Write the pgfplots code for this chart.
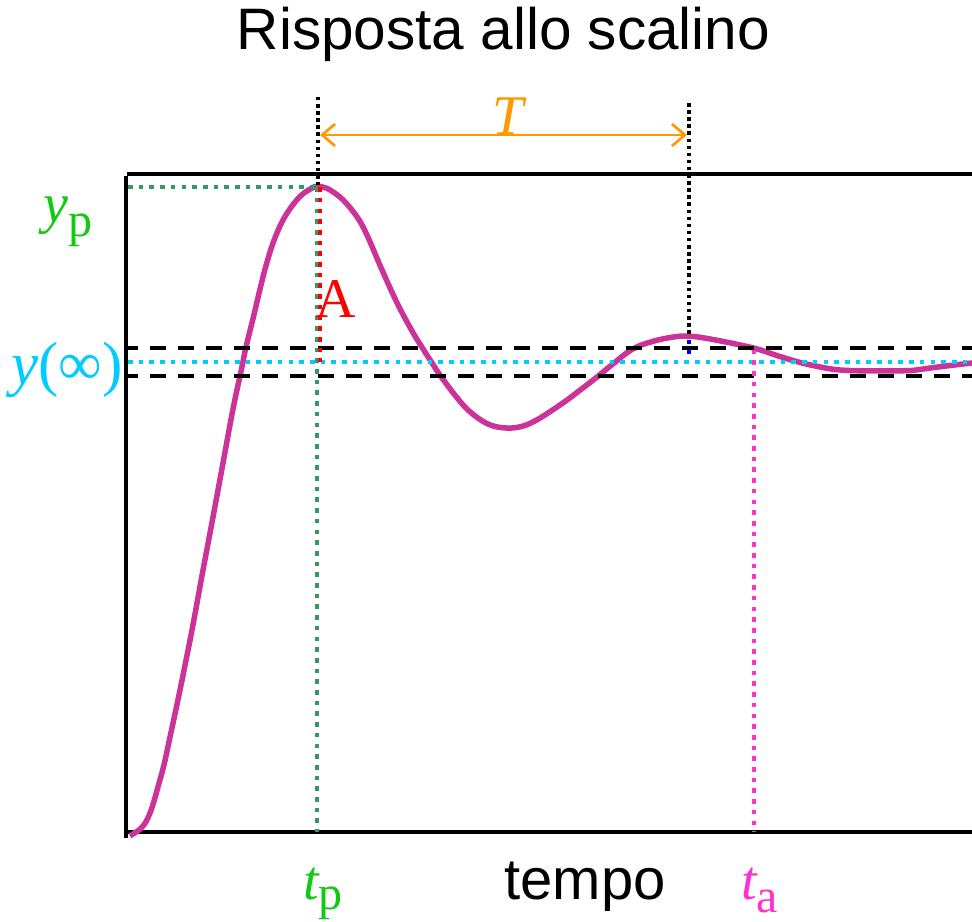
\documentclass[border=0pt]{standalone}
\usepackage{pgfplots}
\pgfplotsset{compat=1.18}
\usepackage{fontspec}
\setmainfont{Liberation Sans}
\newfontfamily\tnr{Liberation Serif}
\usetikzlibrary{arrows.meta}

\definecolor{curvecol}{RGB}{204,51,153}
\definecolor{skycol}{RGB}{0,204,255}
\definecolor{seacol}{RGB}{51,153,102}
\definecolor{limecol}{RGB}{20,200,20}
\definecolor{pinkcol}{RGB}{255,51,204}
\definecolor{orangecol}{RGB}{255,153,0}

\tikzset{
  dotline/.style={line width=4.6bp, dash pattern=on 4.6bp off 6.1bp},
  blackdot/.style={black, line width=3.5bp, dash pattern=on 3.5bp off 3.6bp},
  band/.style={black, line width=4.2bp, dash pattern=on 15.5bp off 12.5bp, dash phase=6bp},
}

% step response samples (time in arbitrary units, output normalised to y(inf)=1)
\pgfplotstableread{
t    y
4   -0.008
8   -0.003
14   0.006
20   0.022
26   0.052
32   0.096
38   0.143
44   0.202
54   0.302
66   0.430
77   0.557
87   0.670
97   0.785
107  0.900
116  0.990
120  1.032
127  1.092
134  1.155
140  1.205
147  1.253
156  1.298
166  1.332
176  1.356
186  1.370
191  1.374
197  1.372
204  1.366
217  1.345
231  1.309
241  1.270
256  1.196
271  1.126
286  1.066
297  1.028
306  0.998
314  0.972
331  0.924
344  0.894
361  0.869
377  0.860
394  0.862
411  0.877
437  0.913
454  0.940
471  0.968
487  0.996
507  1.028
527  1.044
547  1.053
562  1.055
584  1.049
627  1.030
652  1.013
674  0.999
695  0.989
714  0.983
744  0.981
787  0.982
807  0.988
846  0.998
}\stepdata

\begin{document}
\begin{tikzpicture}[x=1bp,y=1bp]
\useasboundingbox (0,0) rectangle (972,922);
\begin{axis}[
  at={(126bp,90bp)}, anchor=south west,
  scale only axis, width=846bp, height=658bp,
  xmin=0, xmax=846, ymin=0, ymax=1.4,
  hide axis, clip=false,
]
% frame
\addplot[black, line width=3.8bp] coordinates {(0,1.396) (0,-0.013)};
\addplot[black, line width=3.8bp] coordinates {(1,1.4) (846,1.4)};
\addplot[black, line width=3.2bp] coordinates {(1,0) (846,0)};

% response
\addplot[curvecol, line width=5.5bp, smooth, tension=0.6] table[x=t, y=y] {\stepdata};

% settling band and final value
\addplot[band] coordinates {(2,1.03) (846,1.03)};
\addplot[band] coordinates {(2,0.97) (846,0.97)};
\addplot[skycol, dotline] coordinates {(2,1.0) (846,1.0)};

% peak
\addplot[seacol, dotline] coordinates {(2,1.372) (191,1.372)};
\addplot[seacol, dotline] coordinates {(191,1.372) (191,0)};
\addplot[red, dotline] coordinates {(194,1.372) (194,1.0)};
\addplot[blackdot] coordinates {(192,1.564) (192,1.376)};

% second peak
\addplot[blackdot] coordinates {(563,1.551) (563,1.058)};
\addplot[blue, line width=4bp, dash pattern=on 4bp off 6bp] coordinates {(563,1.047) (563,1.012)};

% settling time
\addplot[pinkcol, dotline] coordinates {(628,1.026) (628,0)};

% period
\addplot[orangecol, line width=2.7bp, {Straight Barb[length=13bp,width=22bp]}-{Straight Barb[length=13bp,width=22bp]}]
  coordinates {(194,1.483) (561,1.483)};
\end{axis}

% labels
\node[anchor=base, inner sep=0, font=\fontsize{58.5bp}{60bp}\selectfont] at (503.5,872) {Risposta allo scalino};
\node[anchor=base, inner sep=0, font=\fontsize{58bp}{60bp}\selectfont] at (585,22) {tempo};

\node[anchor=base west, inner sep=0, limecol, font=\fontsize{56bp}{60bp}\selectfont\tnr]
  at (303,22) {\itshape t\upshape\raisebox{-10bp}{\fontsize{48bp}{50bp}\selectfont p}};
\node[anchor=base west, inner sep=0, pinkcol, font=\fontsize{56bp}{60bp}\selectfont\tnr]
  at (741,22) {\itshape t\upshape\raisebox{-13bp}{\fontsize{48bp}{50bp}\selectfont a}};
\node[anchor=base west, inner sep=0, limecol, font=\fontsize{56bp}{60bp}\selectfont\tnr]
  at (43,699) {\itshape y\upshape\raisebox{-14bp}{\fontsize{48bp}{50bp}\selectfont p}};
\node[anchor=base west, inner sep=0, skycol, font=\fontsize{61bp}{62bp}\selectfont\tnr]
  at (11,537) {\itshape y\upshape(∞)};
\node[anchor=base west, inner sep=0, red, font=\fontsize{56bp}{60bp}\selectfont\tnr]
  at (315,604) {A};
\node[anchor=base, inner sep=0, orangecol, font=\fontsize{56bp}{60bp}\selectfont\tnr\itshape]
  at (508,787) {T};
\end{tikzpicture}
\end{document}
